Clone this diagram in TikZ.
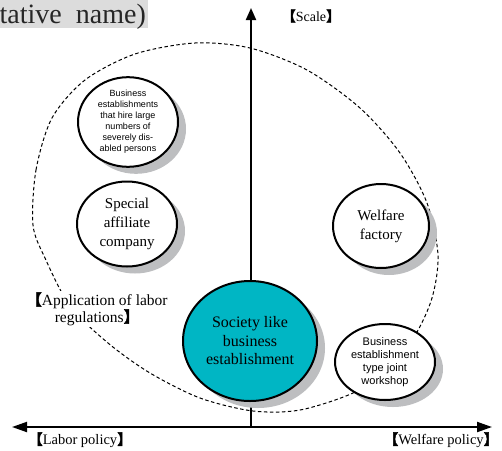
\documentclass[tikz,border=0pt]{standalone}
\usepackage{fontspec}
\setmainfont{Liberation Serif}
\newfontfamily\cjkbr[FakeBold=3]{Noto Sans CJK JP}
\newfontfamily\labelsans{Liberation Sans}
\usetikzlibrary{shapes.geometric,shadows,arrows.meta}
\definecolor{tealfill}{RGB}{0,182,196}
\definecolor{shadegray}{RGB}{189,190,192}
\definecolor{tabgray}{RGB}{220,220,220}
\newcommand\lbr{{\cjkbr 【}}
\newcommand\rbr{{\cjkbr 】}}

\begin{document}
\begin{tikzpicture}[x=1pt,y=-1pt,
  unit/.style={ellipse, draw=black, line width=2pt, fill=white, inner sep=0pt,
    align=center, drop shadow={shadow xshift=8pt, shadow yshift=-7pt, fill=shadegray, opacity=1}},
  bigserif/.style={font=\fontsize{15}{19}\selectfont},
  smallsans/.style={font=\labelsans\fontsize{9}{11}\selectfont},
  midsans/.style={font=\labelsans\fontsize{11}{13}\selectfont},
  axislabel/.style={font=\fontsize{14.5}{17}\selectfont, inner sep=1pt},
  axisline/.style={line width=2pt},
  boundary/.style={line width=1pt, dash pattern=on 3.5pt off 2.5pt}]
\useasboundingbox (0,0) rectangle (502,450);

% clipped heading tab
\begin{scope}
  \clip (0,0) rectangle (148,28);
  \fill[tabgray] (0,0) rectangle (148,28);
  \node[anchor=base east, text=black!85, font=\fontsize{28}{32}\selectfont, inner sep=0pt] (head) at (146,23) {tative~ name)};
\end{scope}

% dashed boundary around the business types
\draw[boundary] plot[smooth cycle] coordinates {
  (33,225) (36,170) (52,118) (85,80) (135,54) (195,43) (250,48) (307,70)
  (360,108) (400,153) (427,203) (438,255) (432,298) (414,337) (385,370)
  (353,393) (300,410) (253,411) (200,398) (150,373) (108,343) (70,306)
  (45,258)};

% axes
\coordinate (xl) at (12,427);
\coordinate (xr) at (492,427);
\coordinate (o) at (251,427);
\coordinate (yt) at (251,8);
\draw[axisline, {Triangle[length=15pt,width=10pt]}-{Triangle[length=15pt,width=10pt]}] (xl) -- (xr);
\draw[axisline, -{Triangle[length=12pt,width=10pt]}] (o) -- (yt);

% business types
\node[unit, smallsans, minimum width=100pt, minimum height=84pt] (hire) at (128,122)
  {Business\\establishments\\that hire large\\numbers of\\severely dis-\\abled persons};
\node[unit, bigserif, minimum width=100pt, minimum height=85pt] (special) at (127,224)
  {Special\\affiliate\\company};
\node[unit, bigserif, minimum width=96pt, minimum height=84pt] (welfare) at (381,226)
  {Welfare\\factory};
\node[unit, midsans, minimum width=100pt, minimum height=76pt] (joint) at (385,362)
  {Business\\establishment\\type joint\\workshop};
\node[unit, bigserif, fill=tealfill, font=\fontsize{16}{18.5}\selectfont,
  minimum width=134pt, minimum height=120pt] (society) at (250,341)
  {Society like\\business\\establishment};

% labels
\node[axislabel, fill=white, align=center, font=\fontsize{15.5}{17}\selectfont] (labor) at (97,309)
  {\lbr Application of labor\\regulations\rbr};
\node[axislabel, font=\fontsize{14}{16}\selectfont] (scale) at (311,16) {\lbr Scale\rbr};
\node[axislabel] (lpol) at (80,440) {\lbr Labor policy\rbr};
\node[axislabel] (wpol) at (441,440) {\lbr Welfare policy\rbr};
\end{tikzpicture}
\end{document}
